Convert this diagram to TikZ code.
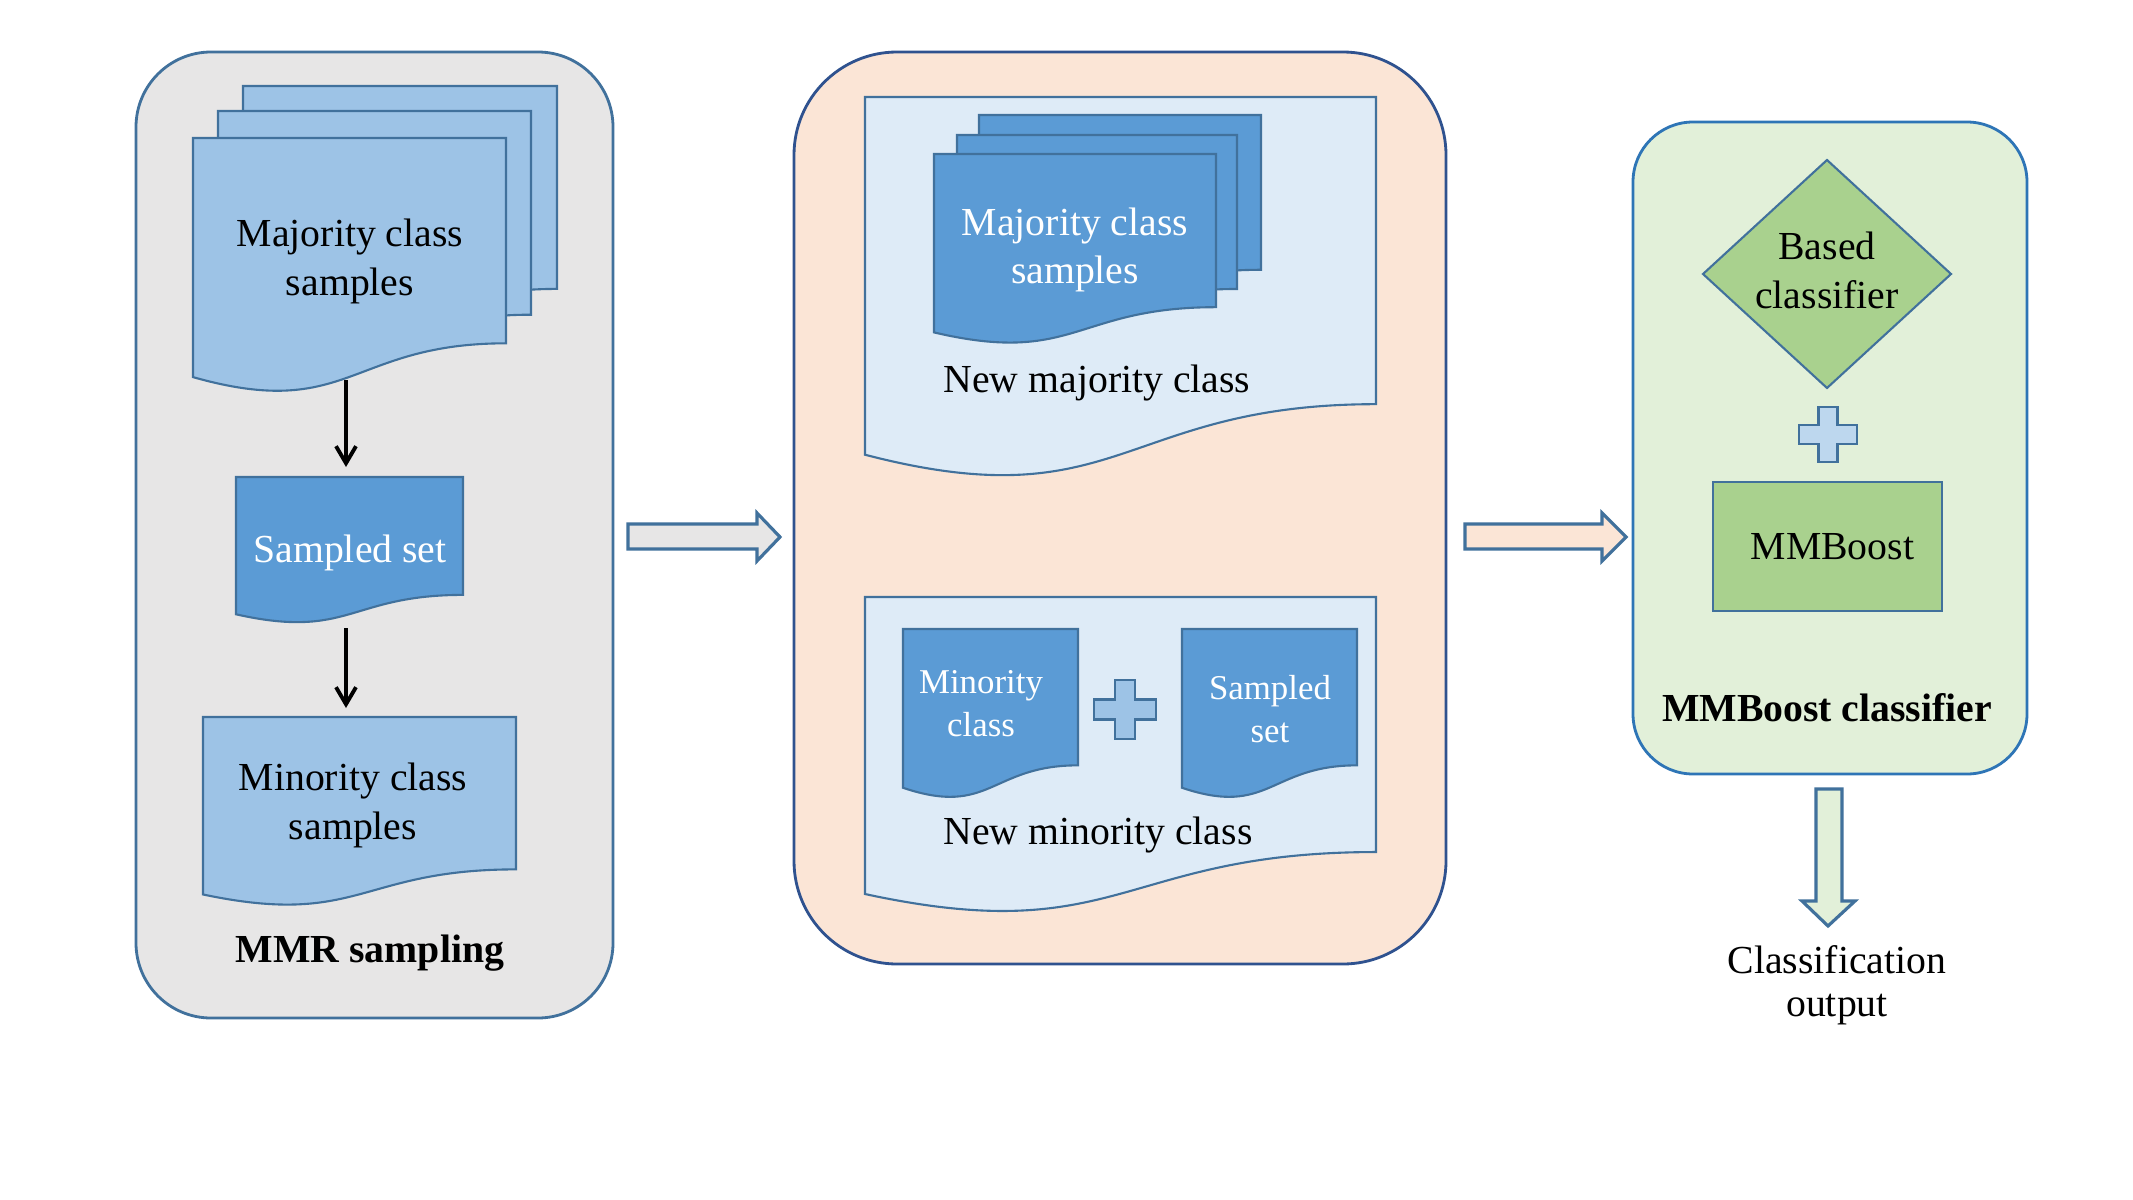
\documentclass[tikz,border=0pt]{standalone}
\usepackage{fontspec}
\setmainfont{Liberation Serif}
\usetikzlibrary{arrows.meta}
\definecolor{bord}{HTML}{41719C}
\definecolor{pbordA}{HTML}{41719C}
\definecolor{pbordB}{HTML}{2F528F}
\definecolor{pbordC}{HTML}{2E75B6}
\definecolor{grayfill}{HTML}{E7E6E6}
\definecolor{peachfill}{HTML}{FBE5D6}
\definecolor{greenfill}{HTML}{E2F0D9}
\definecolor{lightblue}{HTML}{9DC3E6}
\definecolor{midblue}{HTML}{5B9BD5}
\definecolor{paleblue}{HTML}{DEEBF7}
\definecolor{plusblue}{HTML}{BDD7EE}
\definecolor{greenbox}{HTML}{A9D18E}
\newcommand\mydoc[5]{\draw[#5] (#1,#2) -- ({#1+#3},#2) -- ({#1+#3},{#2+0.802*#4}) .. controls ({#1+0.5*#3},{#2+0.802*#4}) and ({#1+0.5*#3},{#2+1.1075*#4}) .. (#1,{#2+0.934*#4}) -- cycle;}
\newcommand\myplus[6]{\draw[#6] ({#1-#5},{#2-#4}) -- ({#1+#5},{#2-#4}) -- ({#1+#5},{#2-#5}) -- ({#1+#3},{#2-#5}) -- ({#1+#3},{#2+#5}) -- ({#1+#5},{#2+#5}) -- ({#1+#5},{#2+#4}) -- ({#1-#5},{#2+#4}) -- ({#1-#5},{#2+#5}) -- ({#1-#3},{#2+#5}) -- ({#1-#3},{#2-#5}) -- ({#1-#5},{#2-#5}) -- cycle;}
\tikzset{
  docline/.style={draw=bord, line width=0.6pt},
  lbdoc/.style={docline, fill=lightblue},
  mbdoc/.style={docline, fill=midblue},
  pbdoc/.style={docline, fill=paleblue},
  txt/.style={font=\fontsize{11.3pt}{13.9pt}\selectfont, align=center, inner sep=0pt},
  wtxt/.style={txt, text=white},
  stxt/.style={font=\fontsize{9.9pt}{12.2pt}\selectfont, align=center, inner sep=0pt, text=white},
  btxt/.style={font=\fontsize{11.3pt}{13.9pt}\selectfont\bfseries, align=center, inner sep=0pt},
  otxt/.style={font=\fontsize{11.3pt}{12.2pt}\selectfont, align=center, inner sep=0pt},
  flowarrow/.style={line width=1.1pt, -{Straight Barb[length=0.17cm, width=0.2cm, line width=1.1pt]}},
  blockarrow/.style={draw=bord, line width=0.9pt, line join=miter},
}
\begin{document}
\begin{tikzpicture}[x=0.01cm, y=-0.01cm]
\useasboundingbox[fill=white] (0,0) rectangle (2133,1200);

% ---------- Panel 1 ----------
\draw[pbordA, line width=0.8pt, fill=grayfill, rounded corners=0.75cm] (136,52) rectangle (613,1018);
\mydoc{243}{86}{314}{253}{lbdoc}
\mydoc{218}{111}{313}{254}{lbdoc}
\mydoc{193}{138}{313}{256}{lbdoc}
\node[txt] (maj1) at (350,261) {Majority class\\samples};
\mydoc{236}{477}{227}{147}{mbdoc}
\node[wtxt] (ss1) at (350,553) {Sampled set};
\mydoc{203}{717}{313}{190}{lbdoc}
\node[txt] (min1) at (353,805) {Minority class\\samples};
\node[btxt] (mmr) at (370,953) {MMR sampling};
\coordinate (maj1bot) at (346,380);
\coordinate (ss1top) at (346,467);
\coordinate (ss1bot) at (346,628);
\coordinate (min1top) at (346,708);
\draw[flowarrow] (maj1bot) -- (ss1top);
\draw[flowarrow] (ss1bot) -- (min1top);

% ---------- Arrow 1 ----------
\draw[blockarrow, fill=grayfill] (628,524) -- (757,524) -- (757,513) -- (780,537) -- (757,561) -- (757,549) -- (628,549) -- cycle;

% ---------- Panel 2 ----------
\draw[pbordB, line width=0.8pt, fill=peachfill, rounded corners=1.03cm] (794,52) rectangle (1446,964);
\mydoc{865}{97}{511}{383}{pbdoc}
\mydoc{979}{115}{282}{193}{mbdoc}
\mydoc{957}{135}{280}{192}{mbdoc}
\mydoc{934}{154}{282}{191}{mbdoc}
\node[wtxt] (maj2) at (1075,250) {Majority class\\samples};
\node[txt] (newmaj) at (1097,383) {New majority class};
\mydoc{865}{597}{511}{318}{pbdoc}
\mydoc{903}{629}{175}{170}{mbdoc}
\mydoc{1182}{629}{175}{170}{mbdoc}
\myplus{1125}{709.5}{31}{29.5}{10}{docline, fill=lightblue}
\node[stxt] (min2) at (981,704) {Minority\\class};
\node[stxt] (ss2) at (1270,709) {Sampled\\set};
\node[txt] (newmin) at (1098,835) {New minority class};

% ---------- Arrow 2 ----------
\draw[blockarrow, fill=peachfill] (1465,524) -- (1602,524) -- (1602,513) -- (1626,537) -- (1602,561) -- (1602,549) -- (1465,549) -- cycle;

% ---------- Panel 3 ----------
\draw[pbordC, line width=0.8pt, fill=greenfill, rounded corners=0.6cm] (1633,122) rectangle (2027,774);
\draw[docline, fill=greenbox] (1827,160) -- (1951,274) -- (1827,388) -- (1703,274) -- cycle;
\node[txt] (based) at (1827,270) {Based\\classifier};
\myplus{1828}{434.5}{29}{27.5}{9.5}{docline, fill=plusblue}
\node[docline, fill=greenbox, minimum width=2.29cm, minimum height=1.29cm, font=\fontsize{11.3pt}{13.9pt}\selectfont, inner sep=0pt] (mmb) at (1827.5,546.5) {\hspace{0.1cm}\raisebox{-0.04cm}{MMBoost}};
\node[btxt] (mmbc) at (1827,708) {MMBoost classifier};

% ---------- Down arrow ----------
\draw[blockarrow, fill=greenfill] (1816,789) -- (1842,789) -- (1842,901) -- (1855,901) -- (1828,926) -- (1802,901) -- (1816,901) -- cycle;
\node[otxt] (out) at (1837,985) {Classification\\output};
\end{tikzpicture}
\end{document}
